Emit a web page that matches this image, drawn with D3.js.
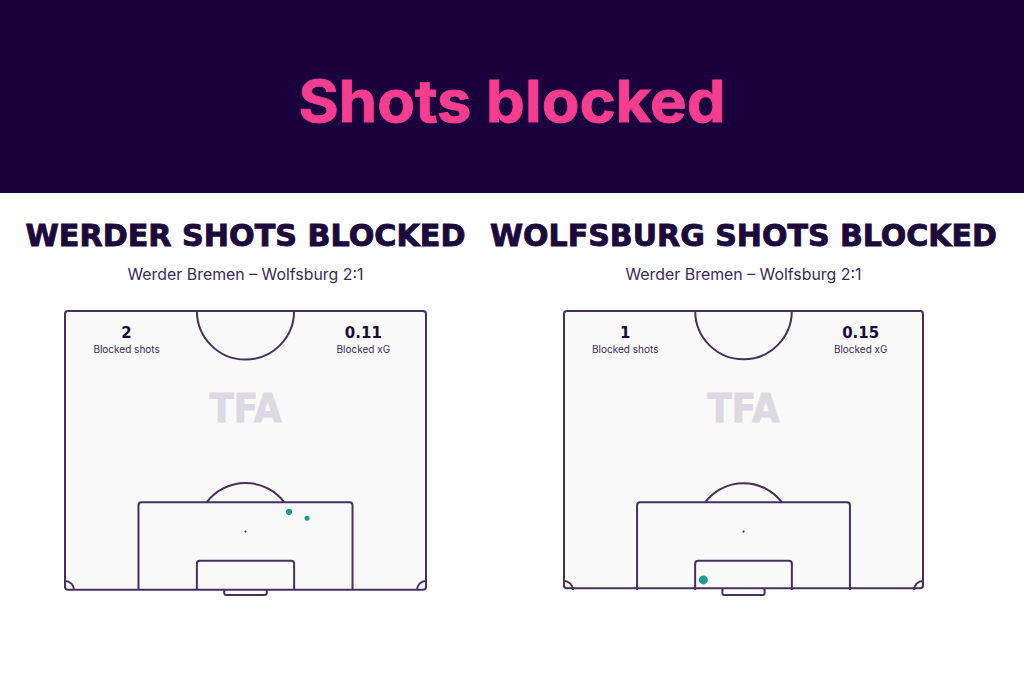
<!DOCTYPE html>
<html><head><meta charset="utf-8">
<script src="https://cdn.jsdelivr.net/npm/d3@7"></script>
<style>
html,body{margin:0;padding:0;background:#fff;}
svg{display:block;}
</style></head>
<body>
<script>
// ---- data ----
const mainTitle = "Shots blocked";
const panelTitles = ["WERDER SHOTS BLOCKED", "WOLFSBURG SHOTS BLOCKED"];
const matchLabels = ["Werder Bremen – Wolfsburg 2:1", "Werder Bremen – Wolfsburg 2:1"];
const blockedShots = ["2", "1"];
const blockedXG = ["0.11", "0.15"];
// shot locations in metres: x across pitch (0–68), y from goal line (0–52.5)
const shotX = [[42.2, 45.6], [26.4]];
const shotY = [[14.7, 13.5], [1.9]];
const shotXG = [[0.07, 0.04], [0.15]];

const W = 1024, H = 683;
const svg = d3.select("body").append("svg").attr("width", W).attr("height", H);

const ink = "#1c0a3c", line = "#45305f", teal = "#1c9d8a", field = "#f9f9fa";

// header
svg.append("rect").attr("x",0).attr("y",0).attr("width",W).attr("height",193).attr("fill","#1a003d");
svg.append("text").attr("x",512).attr("y",122).attr("text-anchor","middle")
  .attr("font-family","Inter, 'Open Sans', sans-serif").attr("font-weight",700)
  .attr("font-size",58).attr("fill","#f63d90").attr("stroke","#f63d90").attr("stroke-width",0.8)
  .attr("textLength",427).attr("lengthAdjust","spacingAndGlyphs").text(mainTitle);

const pitchW = 68, pitchL = 52.5;
const panelLeft = [65, 564];
const panelRight = [426, 923];
const titleW = [440, 507];

const rScale = d3.scaleLinear().domain([0.04, 0.15]).range([2.5, 4.5]);

panelTitles.forEach((t, i) => {
  const x = d3.scaleLinear().domain([0, pitchW]).range([panelLeft[i], panelRight[i]]);
  const y = d3.scaleLinear().domain([0, pitchL]).range([590, 311]);
  const cx = (panelLeft[i] + panelRight[i]) / 2;
  const g = svg.append("g");

  g.append("text").attr("x", cx).attr("y", 246).attr("text-anchor","middle")
    .attr("font-family","'DejaVu Sans', sans-serif").attr("font-weight",700)
    .attr("font-size",29.5).attr("fill",ink).attr("stroke",ink).attr("stroke-width",0.9)
    .attr("textLength",titleW[i]).attr("lengthAdjust","spacingAndGlyphs").text(t);
  g.append("text").attr("x", cx).attr("y", 280).attr("text-anchor","middle")
    .attr("font-family","Inter, sans-serif").attr("font-size",15.5).attr("fill","#3b2a5a")
    .attr("textLength",236).attr("lengthAdjust","spacingAndGlyphs")
    .text(matchLabels[i]);

  const sx = v => x(v), sy = v => y(v);
  const k = x(1) - x(0);
  const st = sel => sel.attr("stroke", line).attr("stroke-width", 2).attr("fill", "none");

  // goal
  st(g.append("rect").attr("x", sx(pitchW/2 - 4)).attr("y", sy(0) - 2).attr("width", 8*k).attr("height", 7).attr("rx", 2));
  // pitch background + outline
  g.append("rect").attr("x", sx(0)).attr("y", sy(pitchL)).attr("width", pitchW*k).attr("height", pitchL*k)
    .attr("rx", 3).attr("fill", field).attr("stroke", line).attr("stroke-width", 2);

  // watermark
  g.append("text").attr("x", cx).attr("y", 422).attr("text-anchor","middle")
    .attr("font-family","'DejaVu Sans', sans-serif").attr("font-weight",700)
    .attr("font-size",39).attr("fill","#dcd9e3").attr("stroke","#dcd9e3").attr("stroke-width",1)
    .attr("textLength",72).attr("lengthAdjust","spacingAndGlyphs").text("TFA");

  // centre circle (half)
  const rc = 9.15 * k;
  st(g.append("path").attr("d", `M${sx(pitchW/2) - rc},${sy(pitchL)} A${rc},${rc} 0 0 0 ${sx(pitchW/2) + rc},${sy(pitchL)}`));
  // penalty arc
  const spotY = sy(11), boxY = sy(16.5);
  const dy = boxY - spotY;
  const dx = Math.sqrt(rc*rc - dy*dy);
  st(g.append("path").attr("d", `M${sx(pitchW/2) - dx},${boxY} A${rc},${rc} 0 0 1 ${sx(pitchW/2) + dx},${boxY}`));
  // boxes (open at the goal line, rounded top corners)
  const box = (half, depth) => {
    const x0 = sx(pitchW/2 - half), x1 = sx(pitchW/2 + half), y0 = sy(depth), yb = sy(0), r = 3;
    return `M${x0},${yb} L${x0},${y0 + r} Q${x0},${y0} ${x0 + r},${y0} L${x1 - r},${y0} Q${x1},${y0} ${x1},${y0 + r} L${x1},${yb}`;
  };
  st(g.append("path").attr("d", box(40.32/2, 16.5)));
  st(g.append("path").attr("d", box(18.32/2, 5.5)));
  // penalty spot
  g.append("circle").attr("cx", sx(pitchW/2)).attr("cy", spotY).attr("r", 1.1).attr("fill", line);
  // corner arcs
  const rco = 1.7 * k;
  st(g.append("path").attr("d", `M${sx(0)},${sy(0) - rco} A${rco},${rco} 0 0 1 ${sx(0) + rco},${sy(0)}`));
  st(g.append("path").attr("d", `M${sx(pitchW) - rco},${sy(0)} A${rco},${rco} 0 0 1 ${sx(pitchW)},${sy(0) - rco}`));

  // stats
  const sL = sx(11.6), sR = sx(56.2);
  g.append("text").attr("x", sL).attr("y", 338).attr("text-anchor","middle")
    .attr("font-family","'DejaVu Sans', sans-serif").attr("font-weight",700).attr("font-size",15).attr("fill",ink).text(blockedShots[i]);
  g.append("text").attr("x", sL).attr("y", 353).attr("text-anchor","middle")
    .attr("font-family","Inter, sans-serif").attr("font-size",10).attr("fill","#3b2a5a").text("Blocked shots");
  g.append("text").attr("x", sR).attr("y", 338).attr("text-anchor","middle")
    .attr("font-family","'DejaVu Sans', sans-serif").attr("font-weight",700).attr("font-size",15).attr("fill",ink).text(blockedXG[i]);
  g.append("text").attr("x", sR).attr("y", 353).attr("text-anchor","middle")
    .attr("font-family","Inter, sans-serif").attr("font-size",10).attr("fill","#3b2a5a").text("Blocked xG");

  // shots
  const shots = shotX[i].map((v, j) => ({x: v, y: shotY[i][j], xg: shotXG[i][j]}));
  g.selectAll("circle.shot").data(shots).join("circle").attr("class","shot")
    .attr("cx", d => x(d.x)).attr("cy", d => y(d.y)).attr("r", d => rScale(d.xg)).attr("fill", teal);
});
</script>
</body></html>
